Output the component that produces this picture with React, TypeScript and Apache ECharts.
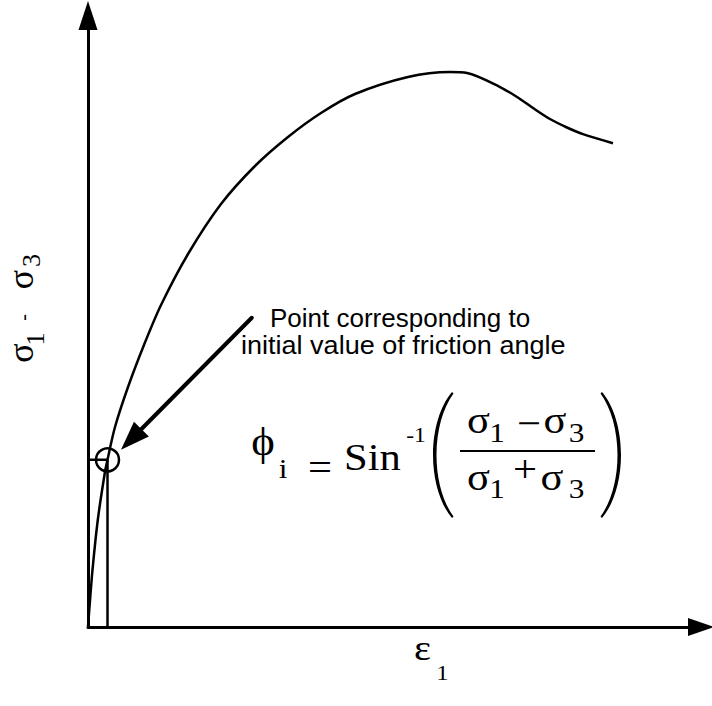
import React, { useEffect, useRef } from "react";
import * as echarts from "echarts";

// Deviator stress (σ1 − σ3) against axial strain ε1, arbitrary units
const strain = [0, 0.25, 0.75, 1.63, 2.8, 3.25, 4.5, 6.67, 9.33, 12.17, 16.67, 22.17, 27.83, 33.33, 38.83, 44.5, 53.33, 60.33, 63.17, 68.67, 71.5, 74.17, 77.0, 79.83, 82.5, 87.5];
const deviator = [0, 3.35, 9.55, 17.92, 25.8, 28, 33.5, 40.2, 47.24, 53.94, 62.48, 70.85, 77.22, 82.08, 86.1, 89.28, 92.13, 92.96, 92.8, 90.45, 88.78, 86.93, 85.09, 83.67, 82.55, 81.04];

// Point used for the initial friction angle
const initialPoint = [3.25, 28];

// Callout arrow: from the note towards the initial point
const calloutFrom = [27.3, 51.8];
const calloutTip = [5.5, 29.7];

const axisMax = 100;

const SERIF = '"Liberation Serif", "Times New Roman", "DejaVu Serif", serif';
const SANS = '"Liberation Sans", Arial, Helvetica, sans-serif';

// Tall parenthesis outline (left one; the right one is mirrored)
const PAREN_D =
  "M19 0 C7 14 0 38 0 63 C0 88 7 112 19 126 L20.5 124.5 C10 110 3.5 88 3.5 63 C3.5 38 10 16 20.5 1.5 Z";

let parenRegistered = false;
function registerParen() {
  if (parenRegistered) return;
  echarts.graphic.registerShape("paren", echarts.graphic.extendPath(PAREN_D, {}) as any);
  parenRegistered = true;
}

type TextOpts = { sx?: number; rot?: number; align?: string };
function txt(text: string, x: number, y: number, size: number, family: string, opts: TextOpts = {}) {
  const align = opts.align ?? "center";
  return {
    type: "text",
    x,
    y,
    scaleX: opts.sx ?? 1.12,
    rotation: opts.rot ?? 0,
    silent: true,
    style: {
      text,
      font: `${size}px ${family}`,
      fill: "#000",
      textAlign: align,
      textVerticalAlign: "middle",
      align,
      verticalAlign: "middle",
    },
  };
}

export default function App() {
  const ref = useRef<HTMLDivElement>(null);

  useEffect(() => {
    if (!ref.current) return;
    registerParen();
    const chart = echarts.init(ref.current, null, { renderer: "svg" });

    const curve = strain.map((s, i) => [s, deviator[i]]);
    const R = Math.PI / 2;

    chart.setOption({
      animation: false,
      backgroundColor: "#fff",
      grid: { left: 88, right: 24, top: 30, bottom: 79 },
      xAxis: {
        type: "value",
        min: 0,
        max: axisMax,
        axisLine: {
          show: true,
          onZero: false,
          symbol: ["none", "triangle"],
          symbolSize: [18, 26],
          symbolOffset: [0, 13],
          lineStyle: { color: "#000", width: 3 },
        },
        axisTick: { show: false },
        axisLabel: { show: false },
        splitLine: { show: false },
      },
      yAxis: {
        type: "value",
        min: 0,
        max: axisMax,
        axisLine: {
          show: true,
          onZero: false,
          symbol: ["none", "triangle"],
          symbolSize: [19, 29],
          symbolOffset: [0, 14.5],
          lineStyle: { color: "#000", width: 3 },
        },
        axisTick: { show: false },
        axisLabel: { show: false },
        splitLine: { show: false },
      },
      series: [
        {
          type: "line",
          data: curve,
          smooth: 0.3,
          showSymbol: false,
          silent: true,
          lineStyle: { color: "#000", width: 2.5 },
        },
        {
          // guide lines from the axes to the initial point
          type: "line",
          data: [
            [0, initialPoint[1]],
            [initialPoint[0], initialPoint[1]],
            [initialPoint[0], 0],
          ],
          showSymbol: false,
          silent: true,
          lineStyle: { color: "#000", width: 2.5 },
        },
        {
          type: "scatter",
          data: [initialPoint],
          symbol: "circle",
          symbolSize: 23,
          silent: true,
          itemStyle: { color: "rgba(0,0,0,0)", borderColor: "#000", borderWidth: 2.5, opacity: 1 },
        },
      ],
    });

    // callout arrow placed through the grid's own coordinate system
    const p0 = chart.convertToPixel({ gridIndex: 0 }, calloutFrom) as number[];
    const p1 = chart.convertToPixel({ gridIndex: 0 }, calloutTip) as number[];
    const dx = p1[0] - p0[0];
    const dy = p1[1] - p0[1];
    const len = Math.hypot(dx, dy) || 1;
    const ux = dx / len;
    const uy = dy / len;
    const headLen = 29;
    const headHalf = 10.5;
    const bx = p1[0] - ux * headLen;
    const by = p1[1] - uy * headLen;

    const graphics: any[] = [
      {
        type: "line",
        silent: true,
        shape: { x1: p0[0], y1: p0[1], x2: bx + ux * 2, y2: by + uy * 2 },
        style: { stroke: "#000", lineWidth: 4, lineCap: "round" },
      },
      {
        type: "polygon",
        silent: true,
        shape: {
          points: [
            [p1[0], p1[1]],
            [bx - uy * headHalf, by + ux * headHalf],
            [bx + uy * headHalf, by - ux * headHalf],
          ],
        },
        style: { fill: "#000" },
      },

      // note text
      txt("Point corresponding to", 270, 317.5, 26, SANS, { align: "left", sx: 1.0 }),
      txt("initial value of friction angle", 241, 345.5, 26, SANS, { align: "left", sx: 1.04 }),

      // ϕi = Sin^-1 ((σ1 − σ3)/(σ1 + σ3))
      txt("ϕ", 263, 441, 40, SERIF),
      txt("i", 283, 468.5, 28, SERIF),
      txt("=", 320, 467, 38, SERIF),
      txt("Sin", 372.5, 457, 38, SERIF),
      txt("-1", 416, 435, 21, SERIF),
      txt("σ", 478.5, 420, 38, SERIF),
      txt("1", 497, 432.5, 28, SERIF),
      txt("−", 529, 423.6, 38, SERIF),
      txt("σ", 555, 420, 38, SERIF),
      txt("3", 576.5, 432.5, 28, SERIF),
      txt("σ", 478.5, 477, 38, SERIF),
      txt("1", 497, 488.5, 28, SERIF),
      txt("+", 525, 469.6, 38, SERIF),
      txt("σ", 552, 477, 38, SERIF),
      txt("3", 576.5, 488.5, 28, SERIF),
      {
        type: "line",
        silent: true,
        shape: { x1: 460, y1: 451, x2: 595, y2: 451 },
        style: { stroke: "#000", lineWidth: 2 },
      },
      { type: "paren", x: 433, y: 392, silent: true, style: { fill: "#000" } },
      { type: "paren", x: 621, y: 392, scaleX: -1, silent: true, style: { fill: "#000" } },

      // x axis name: ε1
      txt("ε", 422.5, 648, 36, SERIF),
      txt("1", 442.5, 672.5, 22, SERIF),

      // y axis name: σ1- σ3 (rotated)
      txt("σ", 21, 353, 36, SERIF, { rot: R, sx: 1 }),
      txt("1", 35, 339, 26, SERIF, { rot: R, sx: 1 }),
      txt("-", 22.7, 317.5, 20, SERIF, { rot: R, sx: 1 }),
      txt("σ", 21, 279.5, 36, SERIF, { rot: R, sx: 1 }),
      txt("3", 31, 260.5, 26, SERIF, { rot: R, sx: 1 }),
    ];

    chart.setOption({ graphic: graphics });

    return () => chart.dispose();
  }, []);

  return (
    <div
      ref={ref}
      style={{ position: "fixed", left: 0, top: 0, width: 712, height: 706, background: "#fff" }}
    />
  );
}
